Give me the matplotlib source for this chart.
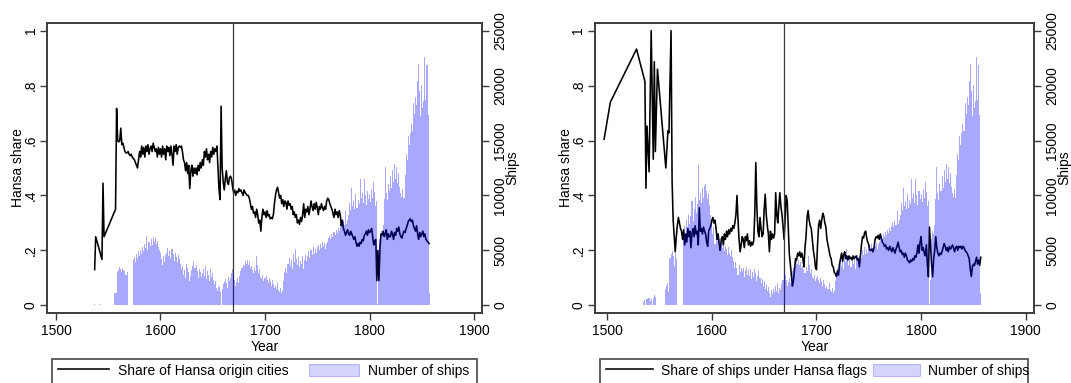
import numpy as np
import matplotlib
matplotlib.use('Agg')
import matplotlib.pyplot as plt
from matplotlib.lines import Line2D
from matplotlib.patches import Patch, Rectangle

plt.rcParams['font.family'] = ['Liberation Sans', 'DejaVu Sans']
FS = 10

# ---------------- data ----------------
# Number of ships, left panel (Hansa origin data), 1537-1669
left_ships_early = [
    80, 60, 0, 0, 70, 0, 90, 0, 60, 0, 0, 50, 0,            # 1537-1549
    0, 0, 0, 0, 0, 0,                                        # 1550-1555
    1100, 1100, 1150, 3000,                                  # 1556-1559
    3200, 3500, 3300, 3000, 3400, 3200, 3100, 2800, 3000, 0,  # 1560s
    0, 0, 0, 0,                                              # 1570-1573
    4100, 4400, 3900, 4700, 4300, 4900,                      # 1574-1579
    4500, 5000, 4700, 5300, 4900, 5600, 5200, 6300, 5000, 5800,
    5400, 6000, 5500, 6200, 5800, 6100, 5600, 5900, 5300, 5000,
    4800, 4200, 3700, 4500, 3900, 4600, 4800, 5200, 4500, 4900,
    4300, 5100, 4700, 4000, 4800, 4400, 3900, 4600, 4200, 3800,
    3300, 3600, 2800, 3200, 2500, 3800, 3400, 3000, 2200, 2700,
    3200, 3600, 3900, 3400, 3700, 3100, 2500, 3300, 3000, 2600,
    2900, 3300, 2700, 3600, 2400, 3100, 2800, 2200, 3300, 2600,
    2900, 2300, 1900, 2200, 1600, 1300, 1700, 1200, 0, 1500,
    1900, 2100, 2400, 2000, 1600, 2600, 2200, 2500, 2900, 3300,
]
# Number of ships, right panel (flag data), 1497-1669
right_ships_early = [
    60, 0, 0,
    50, 0, 0, 60, 0, 0, 0, 0, 0, 0,
    0, 0, 0, 0, 0, 0, 0, 0, 0, 0,
    0, 0, 0, 0, 0, 0, 0, 0, 50, 0,
    0, 0, 0, 0, 0, 300, 500, 0, 550, 700,
    650, 400, 600, 0, 700, 900, 750, 0, 0, 0,
    0, 0, 0, 0, 0, 0, 1500, 1800, 2000, 1200,
    4300, 4700, 4900, 4500, 3600, 4800, 4200, 0, 0, 0,
    0, 0, 0, 6000, 7200, 6500, 7800, 7100, 8200, 7400,
    8100, 9500, 7700, 8800, 9900, 8400, 9200, 12800, 9600, 10200,
    9300, 10700, 9800, 10900, 11000, 10400, 9700, 10100, 9100, 8200,
    7400, 6500, 7100, 5600, 6200, 5900, 5300, 6000, 5500, 5800,
    5200, 5600, 4900, 5400, 5100, 4600, 5300, 4800, 4500, 5000,
    4400, 4000, 3400, 3900, 3400, 2800, 3700, 3000, 3400, 3100,
    3400, 2600, 3100, 3500, 2800, 3200, 2700, 3300, 2400, 3000,
    2600, 3300, 2900, 2200, 2700, 3100, 2500, 2000, 2400, 1800,
    2200, 1500, 1900, 1300, 1700, 1100, 800, 1400, 1000, 1500,
    1200, 1800, 1300, 2000, 1100, 1600, 1400, 1900, 2300, 3000,
]
# Number of ships, both panels, 1670-1857
ships_common = [
    2800, 2300, 1800, 2100, 2500, 2000, 2700, 3100, 3400, 3700,
    3600, 4000, 3800, 4100, 3700, 3900, 3400, 3600, 3200, 2900,
    3500, 3100, 4500, 3700, 2900, 3300, 2600, 2400, 2800, 2200,
    2500, 2700, 2300, 2000, 2500, 2200, 1800, 2300, 1900, 1600,
    1800, 1500, 2000, 1400, 1200, 1600, 1100, 1300, 2200, 3000,
    3400, 2900, 3800, 4300, 3600, 4100, 3300, 4700, 3900, 5100,
    4200, 3700, 4400, 3500, 4000, 3800, 4500, 3300, 4100, 4600,
    4000, 4500, 4900, 4300, 5000, 4600, 5300, 4700, 5100, 4800,
    5300, 5500, 5000, 5600, 5200, 5800, 5400, 5700, 5100, 5600,
    5800, 6100, 6300, 6000, 6500, 6200, 6700, 6400, 6900, 6600,
    7000, 6800, 7200, 7500, 7100, 7700, 7300, 8600, 7400, 7800,
    8200, 9300, 8700, 10700, 9000, 9500, 8800, 10100, 8900, 9600,
    9200, 11500, 9800, 10200, 9300, 11500, 10000, 9100, 10400, 9700,
    10100, 9400, 10600, 9800, 11200, 10300, 9000, 9500, 150, 2300,
    6000, 6800, 6500, 7300, 9700, 12600, 10200, 9600, 11000, 10400,
    11800, 10700, 12300, 11200, 12900, 11500, 12600, 11100, 12000, 10800,
    10200, 9900, 10600, 9800, 11900, 13800, 13200, 15400, 14600, 15700,
    16500, 15900, 18400, 17400, 19000, 18200, 20400, 22000, 19500, 17200,
    20100, 18000, 18600, 22600, 18700, 21900, 17300, 1100,
]

# Share of Hansa origin cities (left)
left_share_early_years = [1537, 1538, 1544, 1545, 1546, 1557]
left_share_early = [0.13, 0.25, 0.167, 0.445, 0.25, 0.35]
left_share_cont = [  # 1558-1857
    0.717,
    0.60, 0.595, 0.60, 0.645, 0.585, 0.59, 0.575, 0.56, 0.555, 0.555, 0.56,
    0.55, 0.545, 0.55, 0.54, 0.535, 0.53, 0.52, 0.51, 0.50, 0.53,
    0.56, 0.54, 0.58, 0.55, 0.575, 0.54, 0.58, 0.56, 0.585, 0.55,
    0.57, 0.58, 0.56, 0.59, 0.575, 0.56, 0.57, 0.54, 0.575, 0.55,
    0.57, 0.54, 0.58, 0.55, 0.57, 0.53, 0.58, 0.56, 0.575, 0.545,
    0.58, 0.55, 0.51, 0.58, 0.56, 0.585, 0.55, 0.575, 0.58, 0.575,
    0.58, 0.56, 0.53, 0.52, 0.49, 0.52, 0.48, 0.51, 0.425, 0.49,
    0.51, 0.47, 0.50, 0.48, 0.50, 0.475, 0.51, 0.49, 0.52, 0.50,
    0.53, 0.51, 0.56, 0.54, 0.57, 0.53, 0.55, 0.52, 0.56, 0.54,
    0.575, 0.55, 0.57, 0.56, 0.58, 0.50, 0.42, 0.385, 0.725, 0.50,
    0.45, 0.42, 0.46, 0.49, 0.45, 0.44, 0.465, 0.47, 0.46, 0.43,
    0.41, 0.42, 0.40, 0.415, 0.41, 0.425, 0.415, 0.42, 0.41, 0.40,
    0.42, 0.41, 0.405, 0.40, 0.40, 0.39, 0.37, 0.35, 0.36, 0.335,
    0.34, 0.32, 0.35, 0.33, 0.30, 0.31, 0.27, 0.32, 0.35, 0.33,
    0.34, 0.32, 0.345, 0.325, 0.33, 0.315, 0.32, 0.315, 0.33, 0.37,
    0.40, 0.42, 0.43, 0.41, 0.39, 0.40, 0.37, 0.385, 0.36, 0.38,
    0.375, 0.35, 0.38, 0.365, 0.37, 0.35, 0.36, 0.33, 0.34, 0.32,
    0.33, 0.30, 0.31, 0.295, 0.32, 0.305, 0.33, 0.37, 0.32, 0.35,
    0.34, 0.36, 0.33, 0.35, 0.38, 0.36, 0.345, 0.37, 0.35, 0.375,
    0.355, 0.33, 0.36, 0.35, 0.37, 0.355, 0.345, 0.36, 0.35, 0.38,
    0.39, 0.385, 0.37, 0.36, 0.35, 0.335, 0.32, 0.35, 0.33, 0.34,
    0.32, 0.345, 0.33, 0.29, 0.31, 0.28, 0.27, 0.255, 0.265, 0.275,
    0.26, 0.255, 0.27, 0.26, 0.25, 0.24, 0.25, 0.23, 0.215, 0.225,
    0.215, 0.23, 0.225, 0.24, 0.235, 0.255, 0.26, 0.27, 0.255, 0.275,
    0.265, 0.27, 0.28, 0.25, 0.22, 0.235, 0.24, 0.09, 0.20, 0.09,
    0.21, 0.26, 0.255, 0.27, 0.25, 0.26, 0.275, 0.24, 0.26, 0.25,
    0.25, 0.27, 0.26, 0.24, 0.265, 0.255, 0.28, 0.27, 0.285, 0.26,
    0.25, 0.245, 0.26, 0.27, 0.265, 0.28, 0.29, 0.305, 0.31, 0.315,
    0.305, 0.31, 0.29, 0.28, 0.27, 0.29, 0.26, 0.24, 0.265, 0.25,
    0.26, 0.27, 0.25, 0.26, 0.24, 0.235, 0.23, 0.225,
]

# Share of ships under Hansa flags (right)
right_share_early_years = [1497, 1503, 1528, 1536, 1537, 1538, 1540, 1542,
                           1544, 1545, 1546, 1548, 1556, 1558, 1559]
right_share_early = [0.605, 0.74, 0.933, 0.815, 0.426, 0.653, 0.486, 1.0,
                     0.532, 0.887, 0.56, 0.86, 0.50, 0.636, 0.628]
right_share_cont = [  # 1561-1857
    1.0, 0.45, 0.31, 0.25, 0.195, 0.25, 0.29, 0.32, 0.30,
    0.28, 0.27, 0.24, 0.275, 0.22, 0.26, 0.23, 0.28, 0.25, 0.27,
    0.21, 0.26, 0.28, 0.25, 0.29, 0.26, 0.27, 0.22, 0.355, 0.27,
    0.28, 0.26, 0.285, 0.27, 0.26, 0.23, 0.215, 0.27, 0.28, 0.29,
    0.31, 0.32, 0.30, 0.31, 0.28, 0.24, 0.26, 0.22, 0.20, 0.24,
    0.25, 0.22, 0.26, 0.24, 0.27, 0.25, 0.275, 0.26, 0.28, 0.27,
    0.29, 0.28, 0.30, 0.33, 0.40, 0.31, 0.24, 0.195, 0.22, 0.25,
    0.24, 0.21, 0.25, 0.235, 0.26, 0.22, 0.235, 0.215, 0.23, 0.22,
    0.235, 0.33, 0.52, 0.36, 0.27, 0.25, 0.32, 0.28, 0.25, 0.26,
    0.35, 0.405, 0.33, 0.29, 0.26, 0.195, 0.27, 0.24, 0.26, 0.245,
    0.26, 0.41, 0.33, 0.30, 0.36, 0.41, 0.36, 0.33, 0.29, 0.24,
    0.31, 0.40, 0.38, 0.28, 0.19, 0.15, 0.11, 0.07, 0.09, 0.13,
    0.17, 0.165, 0.19, 0.18, 0.195, 0.175, 0.19, 0.17, 0.14, 0.21,
    0.25, 0.32, 0.345, 0.31, 0.29, 0.28, 0.24, 0.20, 0.175, 0.14,
    0.13, 0.22, 0.29, 0.31, 0.28, 0.31, 0.335, 0.325, 0.30, 0.285,
    0.24, 0.22, 0.20, 0.18, 0.17, 0.145, 0.14, 0.12, 0.115, 0.105,
    0.125, 0.11, 0.15, 0.17, 0.19, 0.16, 0.185, 0.195, 0.17, 0.18,
    0.165, 0.18, 0.17, 0.175, 0.165, 0.18, 0.17, 0.175, 0.18, 0.165,
    0.17, 0.14, 0.18, 0.22, 0.25, 0.245, 0.265, 0.27, 0.245, 0.23,
    0.22, 0.20, 0.20, 0.205, 0.195, 0.21, 0.24, 0.25, 0.245, 0.255,
    0.24, 0.26, 0.245, 0.23, 0.225, 0.215, 0.22, 0.205, 0.21, 0.20,
    0.215, 0.205, 0.195, 0.21, 0.20, 0.19, 0.205, 0.215, 0.23, 0.21,
    0.195, 0.20, 0.185, 0.19, 0.175, 0.19, 0.18, 0.165, 0.16, 0.155,
    0.165, 0.16, 0.17, 0.165, 0.18, 0.175, 0.19, 0.22, 0.19, 0.23,
    0.25, 0.20, 0.21, 0.19, 0.18, 0.22, 0.15, 0.104, 0.285, 0.22,
    0.15, 0.104, 0.17, 0.20, 0.25, 0.21, 0.19, 0.18, 0.19, 0.185,
    0.195, 0.21, 0.225, 0.215, 0.20, 0.21, 0.195, 0.215, 0.205, 0.21,
    0.22, 0.21, 0.195, 0.21, 0.215, 0.20, 0.215, 0.21, 0.215, 0.205,
    0.215, 0.21, 0.20, 0.195, 0.19, 0.18, 0.17, 0.13, 0.105, 0.14,
    0.15, 0.145, 0.16, 0.175, 0.15, 0.165, 0.145, 0.175,
]

share_ticks = [0, 0.2, 0.4, 0.6, 0.8, 1.0]
share_tick_labels = ['0', '.2', '.4', '.6', '.8', '1']
ship_ticks = [0, 5000, 10000, 15000, 20000, 25000]
ship_tick_labels = ['0', '5000', '10000', '15000', '20000', '25000']
year_ticks = [1500, 1600, 1700, 1800, 1900]
cutoff_year = 1669
legend_labels_left = ['Share of Hansa origin cities', 'Number of ships']
legend_labels_right = ['Share of ships under Hansa flags', 'Number of ships']

# ---------------- derived series ----------------
left_ship_years = np.arange(1537, 1537 + len(left_ships_early) + len(ships_common))
left_ships = np.array(left_ships_early + ships_common)
right_ship_years = np.arange(1497, 1497 + len(right_ships_early) + len(ships_common))
right_ships = np.array(right_ships_early + ships_common)
left_share_years = left_share_early_years + list(range(1558, 1558 + len(left_share_cont)))
left_share = left_share_early + left_share_cont
right_share_years = right_share_early_years + list(range(1561, 1561 + len(right_share_cont)))
right_share = right_share_early + right_share_cont

W, H = 1071, 383
fig = plt.figure(figsize=(W / 100, H / 100), dpi=100)
fig.patch.set_facecolor('white')

SPINE = '#3c3c3c'
BAR = (0.0, 0.0, 1.0, 0.34)
FSPX = FS * 100 / 72.0


def fx(px):
    return px / W


def fy(py):
    return 1 - py / H


def panel(px_left, px_right, xlim, syears, svals, byears, bvals, labels, leg):
    top, bottom = 22.7, 313.3
    rect = [fx(px_left), fy(bottom), (px_right - px_left) / W, (bottom - top) / H]
    ax = fig.add_axes(rect)
    ax.plot(syears, svals, color='black', lw=1.15, zorder=2)
    ax.axvline(cutoff_year, color='#3a3a3a', lw=0.9, zorder=3)
    ax.set_xlim(*xlim)
    ax.set_ylim(-0.029, 1.029)
    ax.set_xticks(year_ticks)
    ax.set_xticklabels([str(y) for y in year_ticks], fontsize=FS)
    ax.set_yticks(share_ticks)
    ax.set_yticklabels(share_tick_labels, fontsize=FS, rotation=90, va='center')
    ax.set_xlabel('Year', fontsize=FS, labelpad=1)
    ax.tick_params(axis='x', direction='out', length=5, width=1.0, color=SPINE, pad=3)
    ax.tick_params(axis='y', direction='out', length=5, width=1.0, color=SPINE, pad=2)

    ax2 = ax.twinx()
    ax2.bar(byears, bvals, width=1.0, color=BAR, linewidth=0, zorder=4)
    ax2.set_ylim(-725, 25725)
    ax2.set_yticks(ship_ticks)
    ax2.set_yticklabels(ship_tick_labels, fontsize=FS, rotation=90, va='center')
    ax2.tick_params(axis='y', direction='out', length=5, width=1.0, color=SPINE, pad=3)
    for a in (ax, ax2):
        for s in a.spines.values():
            s.set_color(SPINE)
            s.set_linewidth(1.2)

    # axis titles placed like the Stata original
    ymid = (top + bottom) / 2
    fig.text(fx(px_left - 29.5), fy(ymid), 'Hansa share', rotation=90,
             ha='center', va='center', fontsize=FS)
    fig.text(fx(px_right + 30), fy(ymid), 'Ships', rotation=90,
             ha='center', va='center', fontsize=FS)

    # legend: frame spans the plot width, keys at fixed positions
    (bx0, bx1, line_x, line_len, patch_x, patch_len, pad1, pad2) = leg
    fig.patches.append(Rectangle((fx(bx0), fy(398)), (bx1 - bx0) / W, (398 - 359) / H,
                                 transform=fig.transFigure, facecolor='white',
                                 edgecolor='#555555', linewidth=1.3, zorder=5))
    h_line = Line2D([], [], color='black', lw=1.15)
    h_patch = Patch(facecolor=(0.0, 0.0, 1.0, 0.17), edgecolor=(0.0, 0.0, 1.0, 0.22),
                    linewidth=0.8)
    for h, lab, x0, ln, pd in ((h_line, labels[0], line_x, line_len, pad1),
                               (h_patch, labels[1], patch_x, patch_len, pad2)):
        lg = fig.legend([h], [lab], loc='center left', bbox_to_anchor=(fx(x0), fy(370.5)),
                        frameon=False, borderpad=0, borderaxespad=0, fontsize=FS,
                        handlelength=ln / FSPX, handleheight=0.95,
                        handletextpad=pd / FSPX)
        lg.set_zorder(6)
    return ax, ax2


panel(47.3, 482.3, (1491.7, 1907.9), left_share_years, left_share,
      left_ship_years, left_ships, legend_labels_left,
      (52.3, 477, 58.3, 51, 309, 50, 8.5, 9))
panel(595.0, 1034.0, (1488.3, 1907.9), right_share_years, right_share,
      right_ship_years, right_ships, legend_labels_right,
      (600, 1028, 606, 46.5, 873, 46.5, 8.5, 8))

fig.savefig('out.png', dpi=100, facecolor='white')
